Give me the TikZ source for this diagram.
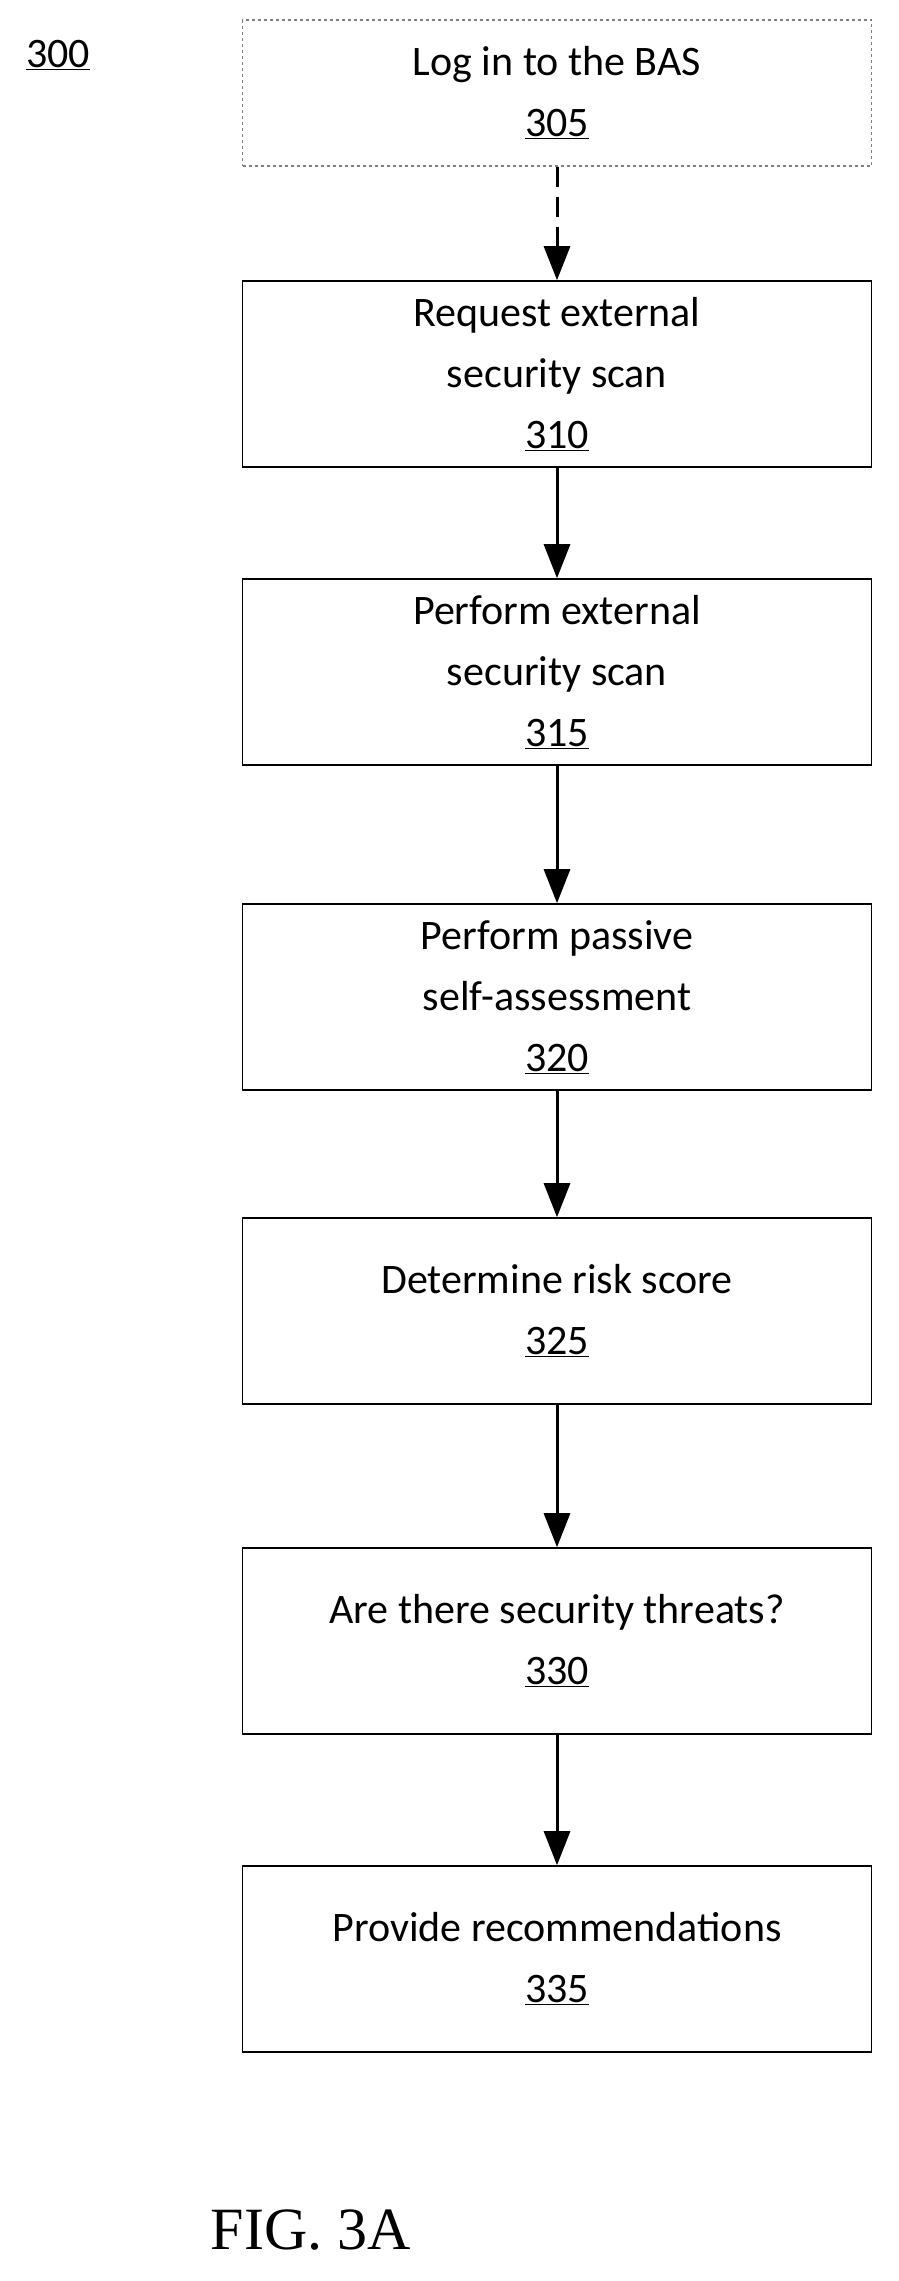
\documentclass[tikz,border=0pt]{standalone}
\usepackage{fontspec}
\setmainfont{Carlito}
\newfontfamily\figfont{Liberation Serif}
\usetikzlibrary{positioning,arrows.meta}
\begin{document}
\begin{tikzpicture}[x=1pt,y=-1pt,>={Triangle[length=34pt,width=26pt]},
    stepbox/.style={
      rectangle,
      draw=black, line width=1.6pt,
      minimum height=186pt,
      minimum width=629pt,
      align=center,
      font=\fontsize{42}{61}\selectfont
    },
    link/.style={->, line width=3pt}]

  \useasboundingbox (0,0) rectangle (898,2281);

  % Reference label
  \node [font=\fontsize{42}{48}\selectfont] (label) at (58,55) {\underline{300}};

  % Steps of the flow
  \node [stepbox, minimum height=146pt, draw=gray, dashed, line width=1.2pt] (login) at (557,93)
    {Log in to the BAS\\\underline{305}};
  \node [stepbox] (request) at (557,374)
    {Request external\\security scan\\\underline{310}};
  \node [stepbox] (perform) at (557,672)
    {Perform external\\security scan\\\underline{315}};
  \node [stepbox] (passive) at (557,997)
    {Perform passive\\self-assessment\\\underline{320}};
  \node [stepbox] (risk) at (557,1311)
    {Determine risk score\\\underline{325}};
  \node [stepbox] (threats) at (557,1641)
    {Are there security threats?\\\underline{330}};
  \node [stepbox] (recommend) at (557,1959)
    {Provide recommendations\\\underline{335}};

  % Connectors
  \draw [link, dash pattern=on 20pt off 10pt] (login) -- (request);
  \draw [link] (request) -- (perform);
  \draw [link] (perform) -- (passive);
  \draw [link] (passive) -- (risk);
  \draw [link] (risk) -- (threats);
  \draw [link] (threats) -- (recommend);

  % Figure title
  \node [font=\figfont\fontsize{60}{70}\selectfont] (fig) at (311,2230) {FIG. 3A};
\end{tikzpicture}
\end{document}
